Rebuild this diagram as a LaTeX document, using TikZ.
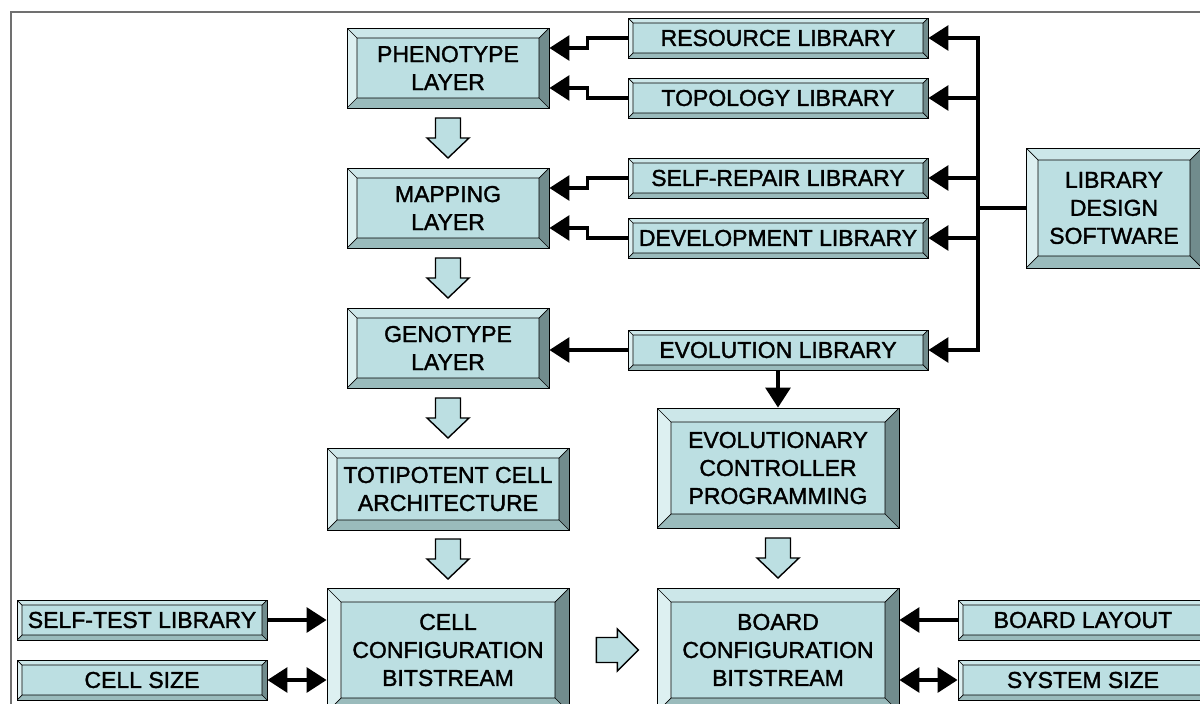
\documentclass[tikz,border=0pt]{standalone}
\usepackage{fontspec}
\setmainfont{Liberation Sans}
\newfontfamily\boxfont{Liberation Sans}[FakeBold=1.5]
\usetikzlibrary{arrows.meta,calc}

\definecolor{face}{HTML}{BCDFE2}
\definecolor{bevtop}{HTML}{CCE7E9}
\definecolor{bevleft}{HTML}{DDF0F1}
\definecolor{bevbot}{HTML}{9ABBBC}
\definecolor{bevright}{HTML}{718C8D}
\definecolor{framegray}{HTML}{707070}

\tikzset{
  bevel/.style={rectangle, fill=face, draw=black, line width=0.9pt,
    inner sep=0pt, align=center, font=\boxfont\fontsize{23}{28}\selectfont,
    path picture={
      \path (path picture bounding box.north west) coordinate (pA)
            (path picture bounding box.north east) coordinate (pB)
            (path picture bounding box.south east) coordinate (pC)
            (path picture bounding box.south west) coordinate (pD);
      \path ([shift={(#1pt,-#1pt)}]pA) coordinate (qA)
            ([shift={(-#1pt,-#1pt)}]pB) coordinate (qB)
            ([shift={(-#1pt,#1pt)}]pC) coordinate (qC)
            ([shift={(#1pt,#1pt)}]pD) coordinate (qD);
      \fill[bevtop] (pA)--(pB)--(qB)--(qA)--cycle;
      \fill[bevright] (pB)--(pC)--(qC)--(qB)--cycle;
      \fill[bevbot] (pC)--(pD)--(qD)--(qC)--cycle;
      \fill[bevleft] (pD)--(pA)--(qA)--(qD)--cycle;
      \draw[line width=0.7pt] (qA) rectangle (qC)
            (pA)--(qA) (pB)--(qB) (pC)--(qC) (pD)--(qD);
    }},
  layer/.style={bevel=10, minimum width=202pt, minimum height=80pt},
  lib/.style={bevel=5, minimum width=300pt, minimum height=40pt},
  sidelib/.style={bevel=5, minimum width=250pt, minimum height=40pt},
  bigbox/.style={bevel=14, minimum width=242pt, minimum height=124pt},
  ln/.style={line width=3.2pt},
  arr/.style={line width=3.2pt, -{Triangle[length=20pt,width=25pt]}},
  darr/.style={line width=3.2pt, {Triangle[length=20pt,width=25pt]}-{Triangle[length=20pt,width=25pt]}},
  blk/.style={fill=face, draw=black, line width=1.4pt, line join=miter},
  pics/downblk/.style={code={
    \draw[blk] (-12.5pt,20pt) -- (12.5pt,20pt) -- (12.5pt,0pt) -- (21pt,0pt)
      -- (0pt,-20pt) -- (-21pt,0pt) -- (-12.5pt,0pt) -- cycle;}},
  pics/rightblk/.style={code={
    \draw[blk] (-21pt,12.5pt) -- (0pt,12.5pt) -- (0pt,21pt) -- (21pt,0pt)
      -- (0pt,-21pt) -- (0pt,-12.5pt) -- (-21pt,-12.5pt) -- cycle;}},
}

\begin{document}
\begin{tikzpicture}[x=1pt, y=-1pt]
  \useasboundingbox (0,0) rectangle (1200,704);
  \clip (0,0) rectangle (1200,704);

  % page frame
  \draw[framegray, line width=1.5pt] (11,710) -- (11,12) -- (1210,12);

  % left column: layers
  \node[layer] (phen) at (448,68) {PHENOTYPE\\LAYER};
  \node[layer] (map)  at (448,208) {MAPPING\\LAYER};
  \node[layer] (gen)  at (448,348) {GENOTYPE\\LAYER};
  \node[bevel=10, minimum width=242pt, minimum height=82pt] (toti) at (448,489)
        {TOTIPOTENT CELL\\ARCHITECTURE};
  \node[bigbox] (cell) at (448,650) {CELL\\CONFIGURATION\\BITSTREAM};

  % libraries
  \node[lib] (res) at (778,38)  {RESOURCE LIBRARY};
  \node[lib] (top) at (778,98)  {TOPOLOGY LIBRARY};
  \node[lib] (srl) at (778,178) {SELF-REPAIR LIBRARY};
  \node[lib] (dev) at (778,238) {DEVELOPMENT LIBRARY};
  \node[lib] (evo) at (778,350) {EVOLUTION LIBRARY};

  \node[bevel=12, minimum width=176pt, minimum height=120pt] (lds) at (1114,208)
        {LIBRARY\\DESIGN\\SOFTWARE};

  \node[bevel=14, minimum width=242pt, minimum height=120pt] (ecp) at (778,468)
        {EVOLUTIONARY\\CONTROLLER\\PROGRAMMING};
  \node[bigbox] (board) at (778,650) {BOARD\\CONFIGURATION\\BITSTREAM};

  % side parameters
  \node[sidelib] (stl) at (142,620)  {SELF-TEST LIBRARY};
  \node[sidelib] (csz) at (142,680)  {CELL SIZE};
  \node[sidelib] (bl)  at (1083,620) {BOARD LAYOUT};
  \node[sidelib] (ss)  at (1083,680) {SYSTEM SIZE};

  % libraries feeding the layers
  \draw[arr] (res.west) -- +(-40pt,0) |- ([yshift=20pt]phen.east);
  \draw[arr] (top.west) -- +(-40pt,0) |- ([yshift=-20pt]phen.east);
  \draw[arr] (srl.west) -- +(-40pt,0) |- ([yshift=20pt]map.east);
  \draw[arr] (dev.west) -- +(-40pt,0) |- ([yshift=-20pt]map.east);
  \draw[arr] (evo.west) -- (evo.west -| gen.east);
  \draw[arr] (evo.south) -- (ecp.north);

  % library design software bus
  \coordinate (bus) at (978,208);
  \draw[ln] (lds.west) -- (bus);
  \draw[arr] (bus) |- (res.east);
  \draw[arr] (bus) |- (top.east);
  \draw[arr] (bus) |- (srl.east);
  \draw[arr] (bus) |- (dev.east);
  \draw[arr] (bus) |- (evo.east);

  % parameters into the bitstreams
  \draw[arr]  (stl.east) -- (stl.east -| cell.west);
  \draw[darr] (csz.east) -- (csz.east -| cell.west);
  \draw[arr]  (bl.west)  -- (bl.west -| board.east);
  \draw[darr] (ss.west)  -- (ss.west -| board.east);

  % flow arrows
  \pic at ($(phen.south)!.5!(map.north)$) {downblk};
  \pic at ($(map.south)!.5!(gen.north)$) {downblk};
  \pic at ($(gen.south)!.5!(toti.north)$) {downblk};
  \pic at ($(toti.south)!.5!(cell.north)$) {downblk};
  \pic at ($(ecp.south)!.5!(board.north)$) {downblk};
  \pic at ($(cell.east)!.55!(board.west)$) {rightblk};
\end{tikzpicture}
\end{document}
